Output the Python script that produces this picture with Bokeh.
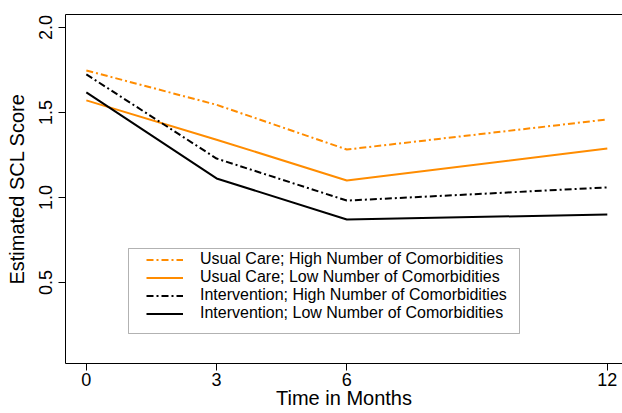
from bokeh.plotting import figure
from bokeh.models import (Range1d, LinearAxis, FixedTicker, Legend, LegendItem,
                          BoxAnnotation)
from bokeh.embed import file_html
from bokeh.resources import INLINE

# ---- data ----
months = [0, 3, 6, 12]
uc_high = [1.747, 1.545, 1.282, 1.459]
uc_low = [1.571, 1.340, 1.100, 1.288]
int_high = [1.724, 1.229, 0.982, 1.059]
int_low = [1.618, 1.112, 0.871, 0.900]

series_labels = ["Usual Care; High Number of Comorbidities",
                 "Usual Care; Low Number of Comorbidities",
                 "Intervention; High Number of Comorbidities",
                 "Intervention; Low Number of Comorbidities"]

x_ticks = [0, 3, 6, 12]
y_ticks = [0.5, 1.0, 1.5, 2.0]
y_tick_labels = ["0.5", "1.0", "1.5", "2.0"]

ORANGE = "#FF8C00"
FONT = "Liberation Sans"

p = figure(width=622, height=413, output_backend="svg", toolbar_location=None,
           x_range=Range1d(-0.48, 12.35), y_range=Range1d(0.024, 2.076),
           min_border_left=65, min_border_right=0, min_border_top=14,
           min_border_bottom=50)
p.outline_line_color = None
p.grid.visible = False
p.background_fill_color = "white"

for ax in (p.xaxis, p.yaxis):
    ax.axis_line_color = "black"
    ax.major_tick_line_color = "black"
    ax.major_tick_out = 7
    ax.major_tick_in = 0
    ax.minor_tick_line_color = None
    ax.major_label_text_font = FONT
    ax.major_label_text_font_size = "18px"
    ax.major_label_text_color = "black"
    ax.axis_label_text_font = FONT
    ax.axis_label_text_font_size = "20px"
    ax.axis_label_text_font_style = "normal"
    ax.axis_label_text_color = "black"

p.xaxis.ticker = FixedTicker(ticks=x_ticks)
p.xaxis.axis_label = "Time in Months"
p.xaxis.major_label_standoff = 2
p.xaxis.axis_label_standoff = -2

p.yaxis.ticker = FixedTicker(ticks=y_ticks)
p.yaxis.major_label_overrides = {t: l for t, l in zip(y_ticks, y_tick_labels)}
p.yaxis.major_label_orientation = "vertical"
p.yaxis.axis_label = "Estimated SCL Score"
p.yaxis.major_label_standoff = 6
p.yaxis.axis_label_standoff = 9

top_axis = LinearAxis(ticker=FixedTicker(ticks=[]), axis_line_color="black",
                      major_tick_out=0, major_tick_in=0, major_label_standoff=0,
                      minor_tick_line_color=None, major_label_text_font_size="0px")
p.add_layout(top_axis, "above")

renderers = [
    p.line(months, uc_high, line_color=ORANGE, line_width=2, line_dash="7 3 2 3"),
    p.line(months, uc_low, line_color=ORANGE, line_width=2),
    p.line(months, int_high, line_color="black", line_width=2, line_dash="7 3 2 3"),
    p.line(months, int_low, line_color="black", line_width=2),
]

box = BoxAnnotation(left=63, right=454, bottom=30, top=115,
                    left_units="screen", right_units="screen",
                    bottom_units="screen", top_units="screen",
                    fill_color="white", fill_alpha=1.0,
                    line_color="black", line_width=1)
p.add_layout(box)

# one single-item legend per entry, stacked so the texts do not overlap
for i, (lab, r) in enumerate(zip(series_labels, renderers)):
    leg = Legend(items=[LegendItem(label=lab, renderers=[r])],
                 location=(81, 95 - 18 * i), padding=0, margin=0, spacing=0,
                 glyph_width=37, glyph_height=15, label_height=15,
                 label_standoff=17, label_text_font=FONT,
                 label_text_font_size="16px", label_text_color="black",
                 border_line_color=None, background_fill_alpha=0)
    p.add_layout(leg)

open("out.html", "w").write(file_html(p, INLINE))
